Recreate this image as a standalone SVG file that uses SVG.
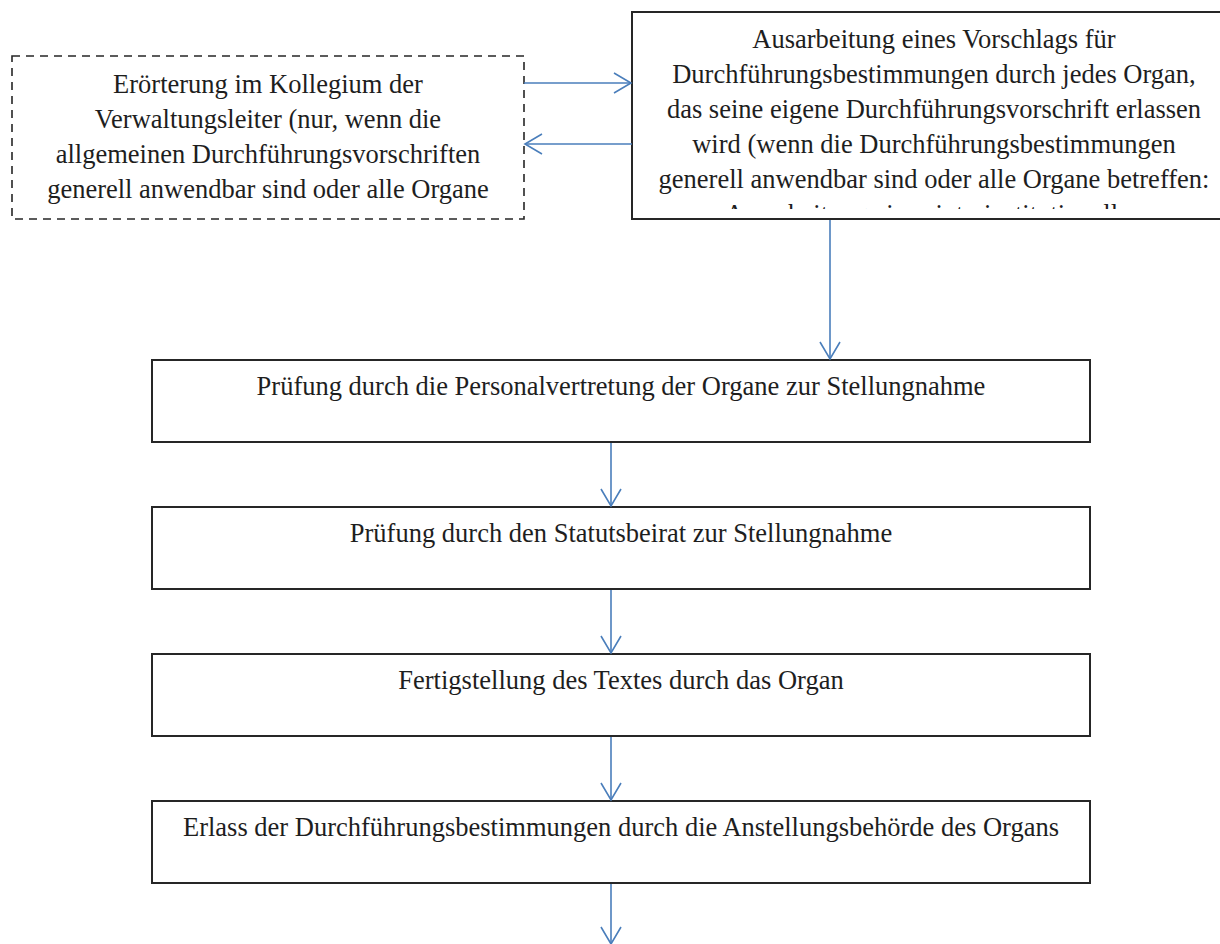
<svg xmlns="http://www.w3.org/2000/svg" width="1220" height="944" viewBox="0 0 1220 944">
<style>
.box{fill:#fff;stroke:#262626;stroke-width:2}
.dash{fill:#fff;stroke:#262626;stroke-width:1.6;stroke-dasharray:8 6}
.t{font-family:"Liberation Serif","Times New Roman",serif;font-size:26.5px;fill:#1e1e1e;text-anchor:middle}
.c{fill:none;stroke:#4a7ebb;stroke-width:1.6;marker-end:url(#arr)}
</style>
<defs>
<marker id="arr" markerUnits="userSpaceOnUse" viewBox="-19 -12 21 24" refX="0" refY="0" markerWidth="21" markerHeight="24" orient="auto">
<path d="M-17,-10 L0,0 L-17,10" fill="none" stroke="#4a7ebb" stroke-width="1.6"/>
</marker>
<clipPath id="clipR"><rect x="632" y="12" width="604" height="197"/></clipPath>
</defs>
<rect width="1220" height="944" fill="#fff"/>
<g id="node-eroerterung">
<rect class="dash" x="12" y="56" width="512" height="163"/>
<text class="t" x="268" y="93">Erörterung im Kollegium der</text>
<text class="t" x="268" y="128">Verwaltungsleiter (nur, wenn die</text>
<text class="t" x="268" y="163">allgemeinen Durchführungsvorschriften</text>
<text class="t" x="268" y="198">generell anwendbar sind oder alle Organe</text>
</g>
<g id="node-ausarbeitung">
<rect class="box" x="632" y="12" width="604" height="207"/>
<g clip-path="url(#clipR)">
<text class="t" x="934" y="48">Ausarbeitung eines Vorschlags für</text>
<text class="t" x="934" y="83">Durchführungsbestimmungen durch jedes Organ,</text>
<text class="t" x="934" y="118">das seine eigene Durchführungsvorschrift erlassen</text>
<text class="t" x="934" y="153">wird (wenn die Durchführungsbestimmungen</text>
<text class="t" x="934" y="188">generell anwendbar sind oder alle Organe betreffen:</text>
<text class="t" x="934" y="223">Ausarbeitung eines interinstitutionellen</text>
</g>
</g>
<g id="node-personalvertretung">
<rect class="box" x="152" y="360" width="938" height="82"/>
<text class="t" x="621" y="395">Prüfung durch die Personalvertretung der Organe zur Stellungnahme</text>
</g>
<g id="node-statutsbeirat">
<rect class="box" x="152" y="507" width="938" height="82"/>
<text class="t" x="621" y="542">Prüfung durch den Statutsbeirat zur Stellungnahme</text>
</g>
<g id="node-fertigstellung">
<rect class="box" x="152" y="654" width="938" height="82"/>
<text class="t" x="621" y="689">Fertigstellung des Textes durch das Organ</text>
</g>
<g id="node-erlass">
<rect class="box" x="152" y="801" width="938" height="82"/>
<text class="t" x="621" y="836">Erlass der Durchführungsbestimmungen durch die Anstellungsbehörde des Organs</text>
</g>
<g id="connectors">
<path class="c" d="M524,83 H631"/>
<path class="c" d="M632,144 H525"/>
<path class="c" d="M830,220 V359"/>
<path class="c" d="M611,443 V506"/>
<path class="c" d="M611,590 V653"/>
<path class="c" d="M611,737 V800"/>
<path class="c" d="M611,884 V944"/>
</g>
</svg>
